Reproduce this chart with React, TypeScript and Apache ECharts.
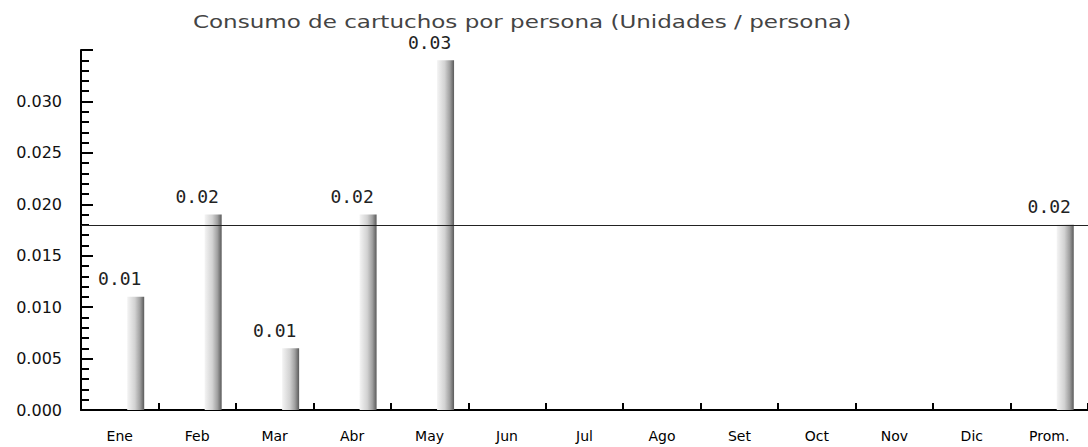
import React, { useEffect, useRef } from "react";
import * as echarts from "echarts";

const titleText = "Consumo de cartuchos por persona (Unidades / persona)";
const categories = ["Ene", "Feb", "Mar", "Abr", "May", "Jun", "Jul", "Ago", "Set", "Oct", "Nov", "Dic", "Prom."];
const consumo = [0.011, 0.019, 0.006, 0.019, 0.034, 0, 0, 0, 0, 0, 0, 0, 0.018];
const promedio = 0.018;
const yMin = 0;
const yMax = 0.035;
const yInterval = 0.005;

export default function App() {
  const ref = useRef<HTMLDivElement>(null);
  useEffect(() => {
    document.body.style.margin = "0";
    if (!ref.current) return;
    const chart = echarts.init(ref.current, undefined, { renderer: "svg" });
    const barColor = new echarts.graphic.LinearGradient(0, 0, 1, 0, [
      { offset: 0, color: "#f4f4f4" },
      { offset: 0.45, color: "#d2d2d2" },
      { offset: 0.75, color: "#a0a0a0" },
      { offset: 1, color: "#5a5a5a" },
    ]);
    chart.setOption({
      animation: false,
      backgroundColor: "#ffffff",
      graphic: [
        {
          type: "text",
          x: 522,
          y: 13,
          scaleX: 1.28,
          silent: true,
          style: {
            text: titleText,
            fontFamily: "DejaVu Sans",
            fontSize: 18,
            fill: "#444",
            textAlign: "center",
            textVerticalAlign: "top",
          },
        },
      ],
      grid: { left: 81, top: 50, width: 1014, height: 360 },
      xAxis: {
        type: "category",
        data: categories,
        boundaryGap: true,
        axisLine: { lineStyle: { color: "#000", width: 2 } },
        axisTick: { show: true, inside: true, length: 7, lineStyle: { color: "#000", width: 2 } },
        axisLabel: {
          color: "#000",
          fontFamily: "DejaVu Sans",
          fontSize: 14,
          margin: 19,
          interval: 0,
        },
        splitLine: { show: false },
      },
      yAxis: {
        type: "value",
        min: yMin,
        max: yMax,
        interval: yInterval,
        axisLine: { show: true, lineStyle: { color: "#000", width: 2 } },
        axisTick: { show: true, inside: true, length: 12, lineStyle: { color: "#000", width: 2 } },
        minorTick: { show: true, splitNumber: 5, length: 8, lineStyle: { color: "#000", width: 2 } },
        splitLine: { show: false },
        minorSplitLine: { show: false },
        axisLabel: {
          color: "#111",
          fontFamily: "DejaVu Sans",
          fontSize: 16,
          margin: 19,
          formatter: (v: number) => (v >= yMax - 1e-9 ? "" : v.toFixed(3)),
        },
      },
      series: [
        {
          type: "bar",
          data: categories.map(() => null),
          barWidth: 17,
          silent: true,
          itemStyle: { color: "transparent" },
        },
        {
          type: "bar",
          data: consumo,
          barWidth: 17,
          barGap: "88%",
          itemStyle: { color: barColor },
          label: {
            show: true,
            position: "top",
            distance: 9,
            offset: [-16, 0],
            fontFamily: "DejaVu Sans Mono",
            fontSize: 18,
            color: "#222",
            formatter: (p: any) => (p.value ? Number(p.value).toFixed(2) : ""),
          },
          markLine: {
            silent: true,
            symbol: "none",
            precision: 4,
            label: { show: false },
            lineStyle: { color: "#222", width: 1, type: "solid" },
            data: [{ yAxis: promedio }],
          },
        },
      ],
    });
    return () => chart.dispose();
  }, []);
  return <div ref={ref} style={{ width: 1088, height: 447 }} />;
}
